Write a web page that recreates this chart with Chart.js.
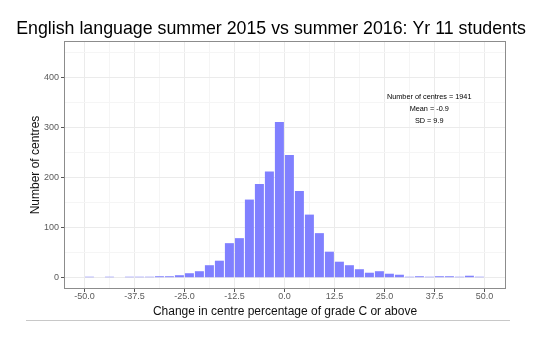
<!DOCTYPE html>
<html>
<head>
<meta charset="utf-8">
<title>English language summer 2015 vs summer 2016: Yr 11 students</title>
<script src="https://cdn.jsdelivr.net/npm/chart.js@4"></script>
<style>
  html, body { margin: 0; padding: 0; background: #fff; }
  #wrap { width: 549px; height: 353px; }
</style>
</head>
<body>
<div id="wrap"><canvas id="histChart"></canvas></div>
<script>
// Histogram bins: 2.5 points wide, edges on multiples of 2.5
const binCentres = [
  -48.75, -46.25, -43.75, -41.25, -38.75, -36.25, -33.75, -31.25, -28.75, -26.25,
  -23.75, -21.25, -18.75, -16.25, -13.75, -11.25, -8.75, -6.25, -3.75, -1.25,
  1.25, 3.75, 6.25, 8.75, 11.25, 13.75, 16.25, 18.75, 21.25, 23.75,
  26.25, 28.75, 31.25, 33.75, 36.25, 38.75, 41.25, 43.75, 46.25, 48.75
];
// Number of centres in each bin
const centreCounts = [
  1, 0, 1, 0, 1, 1, 2, 3, 3, 5,
  9, 13, 25, 34, 69, 79, 156, 187, 212, 311,
  245, 173, 126, 89, 52, 32, 25, 17, 10, 13,
  8, 6, 1, 3, 1, 3, 3, 1, 4, 1
];
// Major (labelled) and minor grid positions
const xTickValues = [-50, -43.75, -37.5, -31.25, -25, -18.75, -12.5, -6.25, 0,
  6.25, 12.5, 18.75, 25, 31.25, 37.5, 43.75, 50];
const yTickValues = [0, 50, 100, 150, 200, 250, 300, 350, 400, 450];
const statsLines = ["Number of centres = 1941", "Mean = -0.9", "SD = 9.9"];

const fontFamily = "'Liberation Sans', Arial, Helvetica, sans-serif";
const majorGrid = "#ebebeb";
const minorGrid = "#f5f5f5";

// scriptable contexts without a tick get treated as minor
const isMajorX = (v) => v !== undefined && v % 12.5 === 0;
const isMajorY = (v) => v !== undefined && v % 100 === 0;
const tickVal = (c) => (c && c.tick ? c.tick.value : undefined);

// Panel border, stats text and the rule under the chart
const panelExtras = {
  id: "panelExtras",
  afterDatasetsDraw(chart) {
    const { ctx, chartArea: a, scales } = chart;
    ctx.save();
    ctx.strokeStyle = "#8c8c8c";
    ctx.lineWidth = 1;
    ctx.strokeRect(a.left + 0.5, a.top + 0.5, a.right - a.left - 1, a.bottom - a.top - 1);

    ctx.fillStyle = "#000";
    ctx.font = "7.3px " + fontFamily;
    ctx.textAlign = "center";
    ctx.textBaseline = "middle";
    const tx = scales.x.getPixelForValue(36.2);
    const ty = scales.y.getPixelForValue(361);
    statsLines.forEach((line, i) => ctx.fillText(line, tx, ty + i * 12));

    ctx.strokeStyle = "#c8c8c8";
    ctx.beginPath();
    ctx.moveTo(26, 320.5);
    ctx.lineTo(510, 320.5);
    ctx.stroke();
    ctx.restore();
  }
};

const ctx = document.getElementById("histChart").getContext("2d");
const histChart = new Chart(ctx, {
  type: "bar",
  data: {
    datasets: [
      {
        data: binCentres.map((x, i) => ({ x: x, y: centreCounts[i] })),
        backgroundColor: (c) => (c.raw && c.raw.y > 0 ? "#8080ff" : "rgba(0,0,0,0)"),
        borderWidth: 0,
        minBarLength: 1,
        barPercentage: 0.9,
        categoryPercentage: 1
      }
    ]
  },
  options: {
    responsive: true,
    maintainAspectRatio: false,
    animation: false,
    layout: { padding: { left: 0, right: 7, top: 0, bottom: 0 } },
    plugins: {
      legend: { display: false },
      tooltip: { enabled: false },
      title: {
        display: true,
        text: "English language summer 2015 vs summer 2016: Yr 11 students",
        color: "#000",
        font: { family: fontFamily, size: 17.8, weight: "normal" },
        padding: { top: 18.3, bottom: 1.34 }
      }
    },
    scales: {
      x: {
        type: "linear",
        offset: false,
        min: -55.1,
        max: 55.4,
        afterBuildTicks: (scale) => {
          scale.ticks = xTickValues.map((v) => ({ value: v }));
        },
        afterFit: (scale) => { scale.height = 64; },
        border: { display: false },
        grid: {
          offset: false,
          color: (c) => (isMajorX(tickVal(c)) ? majorGrid : minorGrid),
          tickColor: (c) => (isMajorX(tickVal(c)) ? "#555" : "rgba(0,0,0,0)"),
          tickLength: 3
        },
        ticks: {
          autoSkip: false,
          maxRotation: 0,
          padding: 0,
          color: "#5a5a5a",
          font: { family: fontFamily, size: 9, lineHeight: 1 },
          callback: (v) => (isMajorX(v) ? Number(v).toFixed(1) : "")
        },
        title: {
          display: true,
          text: "Change in centre percentage of grade C or above",
          color: "#111",
          font: { family: fontFamily, size: 12 },
          padding: { top: 0, bottom: 34.5 }
        }
      },
      y: {
        min: -22.5,
        max: 472.5,
        afterBuildTicks: (scale) => {
          scale.ticks = yTickValues.map((v) => ({ value: v }));
        },
        afterFit: (scale) => { scale.width = 64; },
        border: { display: false },
        grid: {
          color: (c) => (isMajorY(tickVal(c)) ? majorGrid : minorGrid),
          tickColor: (c) => (isMajorY(tickVal(c)) ? "#555" : "rgba(0,0,0,0)"),
          tickLength: 3
        },
        ticks: {
          autoSkip: false,
          padding: 2,
          color: "#5a5a5a",
          font: { family: fontFamily, size: 9 },
          callback: (v) => (isMajorY(v) ? String(v) : "")
        },
        title: {
          display: true,
          text: "Number of centres",
          color: "#111",
          font: { family: fontFamily, size: 12 },
          padding: { top: 28.8, bottom: 0 }
        }
      },
      // empty right-hand strip so the panel ends where the reference's does
      yRight: {
        position: "right",
        min: 0,
        max: 1,
        afterFit: (scale) => { scale.width = 36; },
        border: { display: false },
        grid: { display: false, drawOnChartArea: false },
        ticks: { display: false }
      }
    }
  },
  plugins: [panelExtras]
});
</script>
</body>
</html>
